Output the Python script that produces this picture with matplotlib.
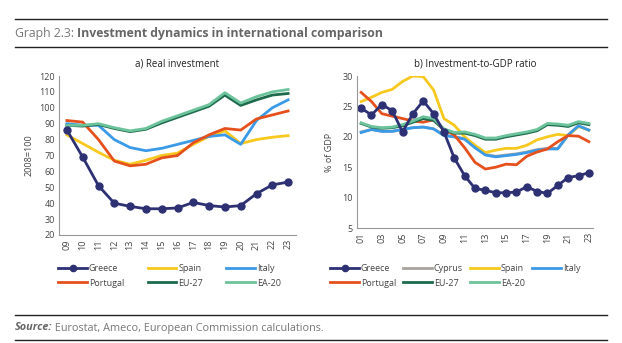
import matplotlib
matplotlib.use("Agg")
import matplotlib.pyplot as plt
from matplotlib.lines import Line2D

plt.rcParams['font.family'] = ['Open Sans', 'DejaVu Sans']

# a) Real investment, 2008=100
years_a = ['09', '10', '11', '12', '13', '14', '15', '16', '17', '18', '19', '20', '21', '22', '23']
greece_a = [86, 69, 51, 40, 38, 36.5, 36.5, 37, 40.5, 38.5, 37.6, 38.5, 46, 51.5, 53.3]
spain_a = [83, 77.5, 72, 67, 64.5, 67, 70, 71.5, 77, 82, 85.5, 77.5, 80, 81.5, 82.5]
italy_a = [90, 89, 89, 80, 75, 73, 74.5, 77, 79.5, 82, 83, 77, 92, 100, 105]
portugal_a = [92, 91, 80, 66.5, 63.5, 64.5, 68.5, 70, 78, 83, 87, 86, 93, 95.5, 98]
eu27_a = [89, 88.5, 89.5, 87, 85, 86.5, 90.5, 94, 97.5, 101, 108, 101.5, 105, 108, 109]
ea20_a = [89, 89, 90, 87.5, 85.5, 87, 91.5, 95, 98.5, 102, 109.5, 103, 107, 110, 111.5]

# b) Investment-to-GDP ratio, % of GDP
years_b = ['01', '02', '03', '04', '05', '06', '07', '08', '09', '10', '11', '12',
           '13', '14', '15', '16', '17', '18', '19', '20', '21', '22', '23']
tick_b = ['01', '03', '05', '07', '09', '11', '13', '15', '17', '19', '21', '23']
greece_b = [24.7, 23.6, 25.3, 24.3, 20.8, 23.8, 25.9, 23.8, 20.8, 16.5, 13.6, 11.5,
            11.2, 10.8, 10.8, 10.9, 11.8, 11.0, 10.7, 12.0, 13.3, 13.6, 14.1]
cyprus_b = [20.8, 21.2, 20.9, 20.9, 21.2, 21.5, 21.6, 21.3, 20.3, 20.0, 19.7, 18.3,
            17.1, 16.8, 17.0, 17.2, 17.5, 17.9, 18.1, 18.1, 20.3, 21.8, 21.1]
spain_b = [25.8, 26.5, 27.3, 27.8, 29.1, 30.0, 29.9, 27.7, 23.0, 21.9, 20.0, 18.6,
           17.4, 17.8, 18.1, 18.1, 18.6, 19.5, 20.0, 20.4, 20.2, 21.7, 21.1]
italy_b = [20.7, 21.2, 20.9, 20.9, 21.2, 21.5, 21.6, 21.3, 20.2, 20.0, 19.6, 18.2,
           17.0, 16.7, 16.9, 17.1, 17.4, 17.8, 18.0, 18.0, 20.3, 21.8, 21.1]
portugal_b = [27.3, 25.8, 23.8, 23.4, 23.0, 22.6, 22.4, 22.8, 21.2, 20.3, 18.2, 15.8,
              14.7, 15.0, 15.5, 15.4, 16.8, 17.5, 18.0, 19.2, 20.2, 20.1, 19.2]
eu27_b = [22.2, 21.6, 21.4, 21.5, 21.8, 22.4, 23.0, 22.7, 21.2, 20.6, 20.6, 20.2,
          19.6, 19.6, 20.0, 20.3, 20.6, 21.0, 22.0, 21.9, 21.7, 22.3, 22.0]
ea20_b = [22.3, 21.7, 21.5, 21.6, 22.0, 22.6, 23.3, 23.0, 21.3, 20.7, 20.8, 20.4,
          19.8, 19.8, 20.2, 20.5, 20.8, 21.2, 22.2, 22.1, 21.9, 22.5, 22.2]

c_greece = '#2d3173'
c_cyprus = '#aaa39d'
c_spain = '#f7c81e'
c_italy = '#3b9ae8'
c_portugal = '#e6501d'
c_eu = '#1e6a4c'
c_ea = '#6cc39b'
txt = '#444444'
lw = 2.0

fig = plt.figure(figsize=(6.22, 3.43), dpi=100)

# header / footer rules
for yy in [1 - 19 / 343, 1 - 47 / 343, 1 - 315 / 343, 1 - 340 / 343]:
    fig.add_artist(Line2D([15 / 622, 607 / 622], [yy, yy], color='#222222', lw=1.0))

t1 = fig.text(15 / 622, 1 - 33 / 343, 'Graph 2.3: ', fontsize=8.8, color='#777777', va='center')
s1 = fig.text(15 / 622, 1 - 328 / 343, 'Source:', fontsize=7.8, fontweight='bold', style='italic',
              color='#666666', va='center')

ax1 = fig.add_axes([59 / 622, 1 - 235 / 343, 237 / 622, 159 / 343])
ax2 = fig.add_axes([357 / 622, 1 - 228 / 343, 236 / 622, 152 / 343])

ax1.annotate('Investment dynamics in international comparison', xy=(1, 0.5), xycoords=t1,
             va='center', ha='left', fontsize=8.8, fontweight='bold', color='#666666',
             annotation_clip=False)
ax1.annotate(' Eurostat, Ameco, European Commission calculations.', xy=(1, 0.5), xycoords=s1,
             va='center', ha='left', fontsize=7.8, color='#777777', annotation_clip=False)

xa = list(range(len(years_a)))
ax1.plot(xa, spain_a, color=c_spain, lw=lw, label='Spain')
ax1.plot(xa, italy_a, color=c_italy, lw=lw, label='Italy')
ax1.plot(xa, portugal_a, color=c_portugal, lw=lw, label='Portugal')
ax1.plot(xa, eu27_a, color=c_eu, lw=lw, label='EU-27')
ax1.plot(xa, ea20_a, color=c_ea, lw=lw, label='EA-20')
ax1.plot(xa, greece_a, color=c_greece, lw=lw, marker='o', ms=5, label='Greece')
ax1.set_xlim(-0.5, len(years_a) - 0.5)
ax1.set_ylim(20, 120)
ax1.set_yticks(range(20, 121, 10))
ax1.set_xticks(xa)
ax1.set_xticklabels(years_a, rotation=90)
ax1.set_ylabel('2008=100', fontsize=6.5, color=txt, labelpad=4)
ax1.set_title('a) Real investment', fontsize=7, color='#222222', pad=7)

xb = list(range(len(years_b)))
ax2.plot(xb, cyprus_b, color=c_cyprus, lw=lw, label='Cyprus')
ax2.plot(xb, spain_b, color=c_spain, lw=lw, label='Spain')
ax2.plot(xb, italy_b, color=c_italy, lw=lw, label='Italy')
ax2.plot(xb, portugal_b, color=c_portugal, lw=lw, label='Portugal')
ax2.plot(xb, eu27_b, color=c_eu, lw=lw, label='EU-27')
ax2.plot(xb, ea20_b, color=c_ea, lw=lw, label='EA-20')
ax2.plot(xb, greece_b, color=c_greece, lw=lw, marker='o', ms=5, label='Greece')
ax2.set_xlim(-0.4, len(years_b) - 0.6)
ax2.set_ylim(5, 30)
ax2.set_yticks(range(5, 31, 5))
ax2.set_xticks(xb[::2])
ax2.set_xticklabels(tick_b, rotation=90)
ax2.set_ylabel('% of GDP', fontsize=6.5, color=txt, labelpad=6)
ax2.set_title('b) Investment-to-GDP ratio', fontsize=7, color='#222222', pad=7)

for ax in (ax1, ax2):
    for s in ('top', 'right'):
        ax.spines[s].set_visible(False)
    for s in ('left', 'bottom'):
        ax.spines[s].set_color('#999999')
        ax.spines[s].set_linewidth(0.8)
    ax.tick_params(length=0, labelsize=6.5, colors=txt, pad=3)

h1 = {l.get_label(): l for l in ax1.get_lines()}
order1 = ['Greece', 'Portugal', 'Spain', 'EU-27', 'Italy', 'EA-20']
ax1.legend([h1[k] for k in order1], order1, ncol=3, loc='upper left',
           bbox_to_anchor=(50 / 622, 1 - 256 / 343), bbox_transform=fig.transFigure,
           frameon=False, fontsize=6.5, handlelength=3.2, handletextpad=0.2,
           columnspacing=2.6, labelspacing=0.6, labelcolor=txt, markerscale=0.9)

h2 = {l.get_label(): l for l in ax2.get_lines()}
order2 = ['Greece', 'Portugal', 'Cyprus', 'EU-27', 'Spain', 'EA-20', 'Italy']
ax2.legend([h2[k] for k in order2], order2, ncol=4, loc='upper left',
           bbox_to_anchor=(322 / 622, 1 - 256 / 343), bbox_transform=fig.transFigure,
           frameon=False, fontsize=6.5, handlelength=3.2, handletextpad=0.2,
           columnspacing=0.8, labelspacing=0.6, labelcolor=txt, markerscale=0.9)

fig.savefig('out.png', dpi=100)
